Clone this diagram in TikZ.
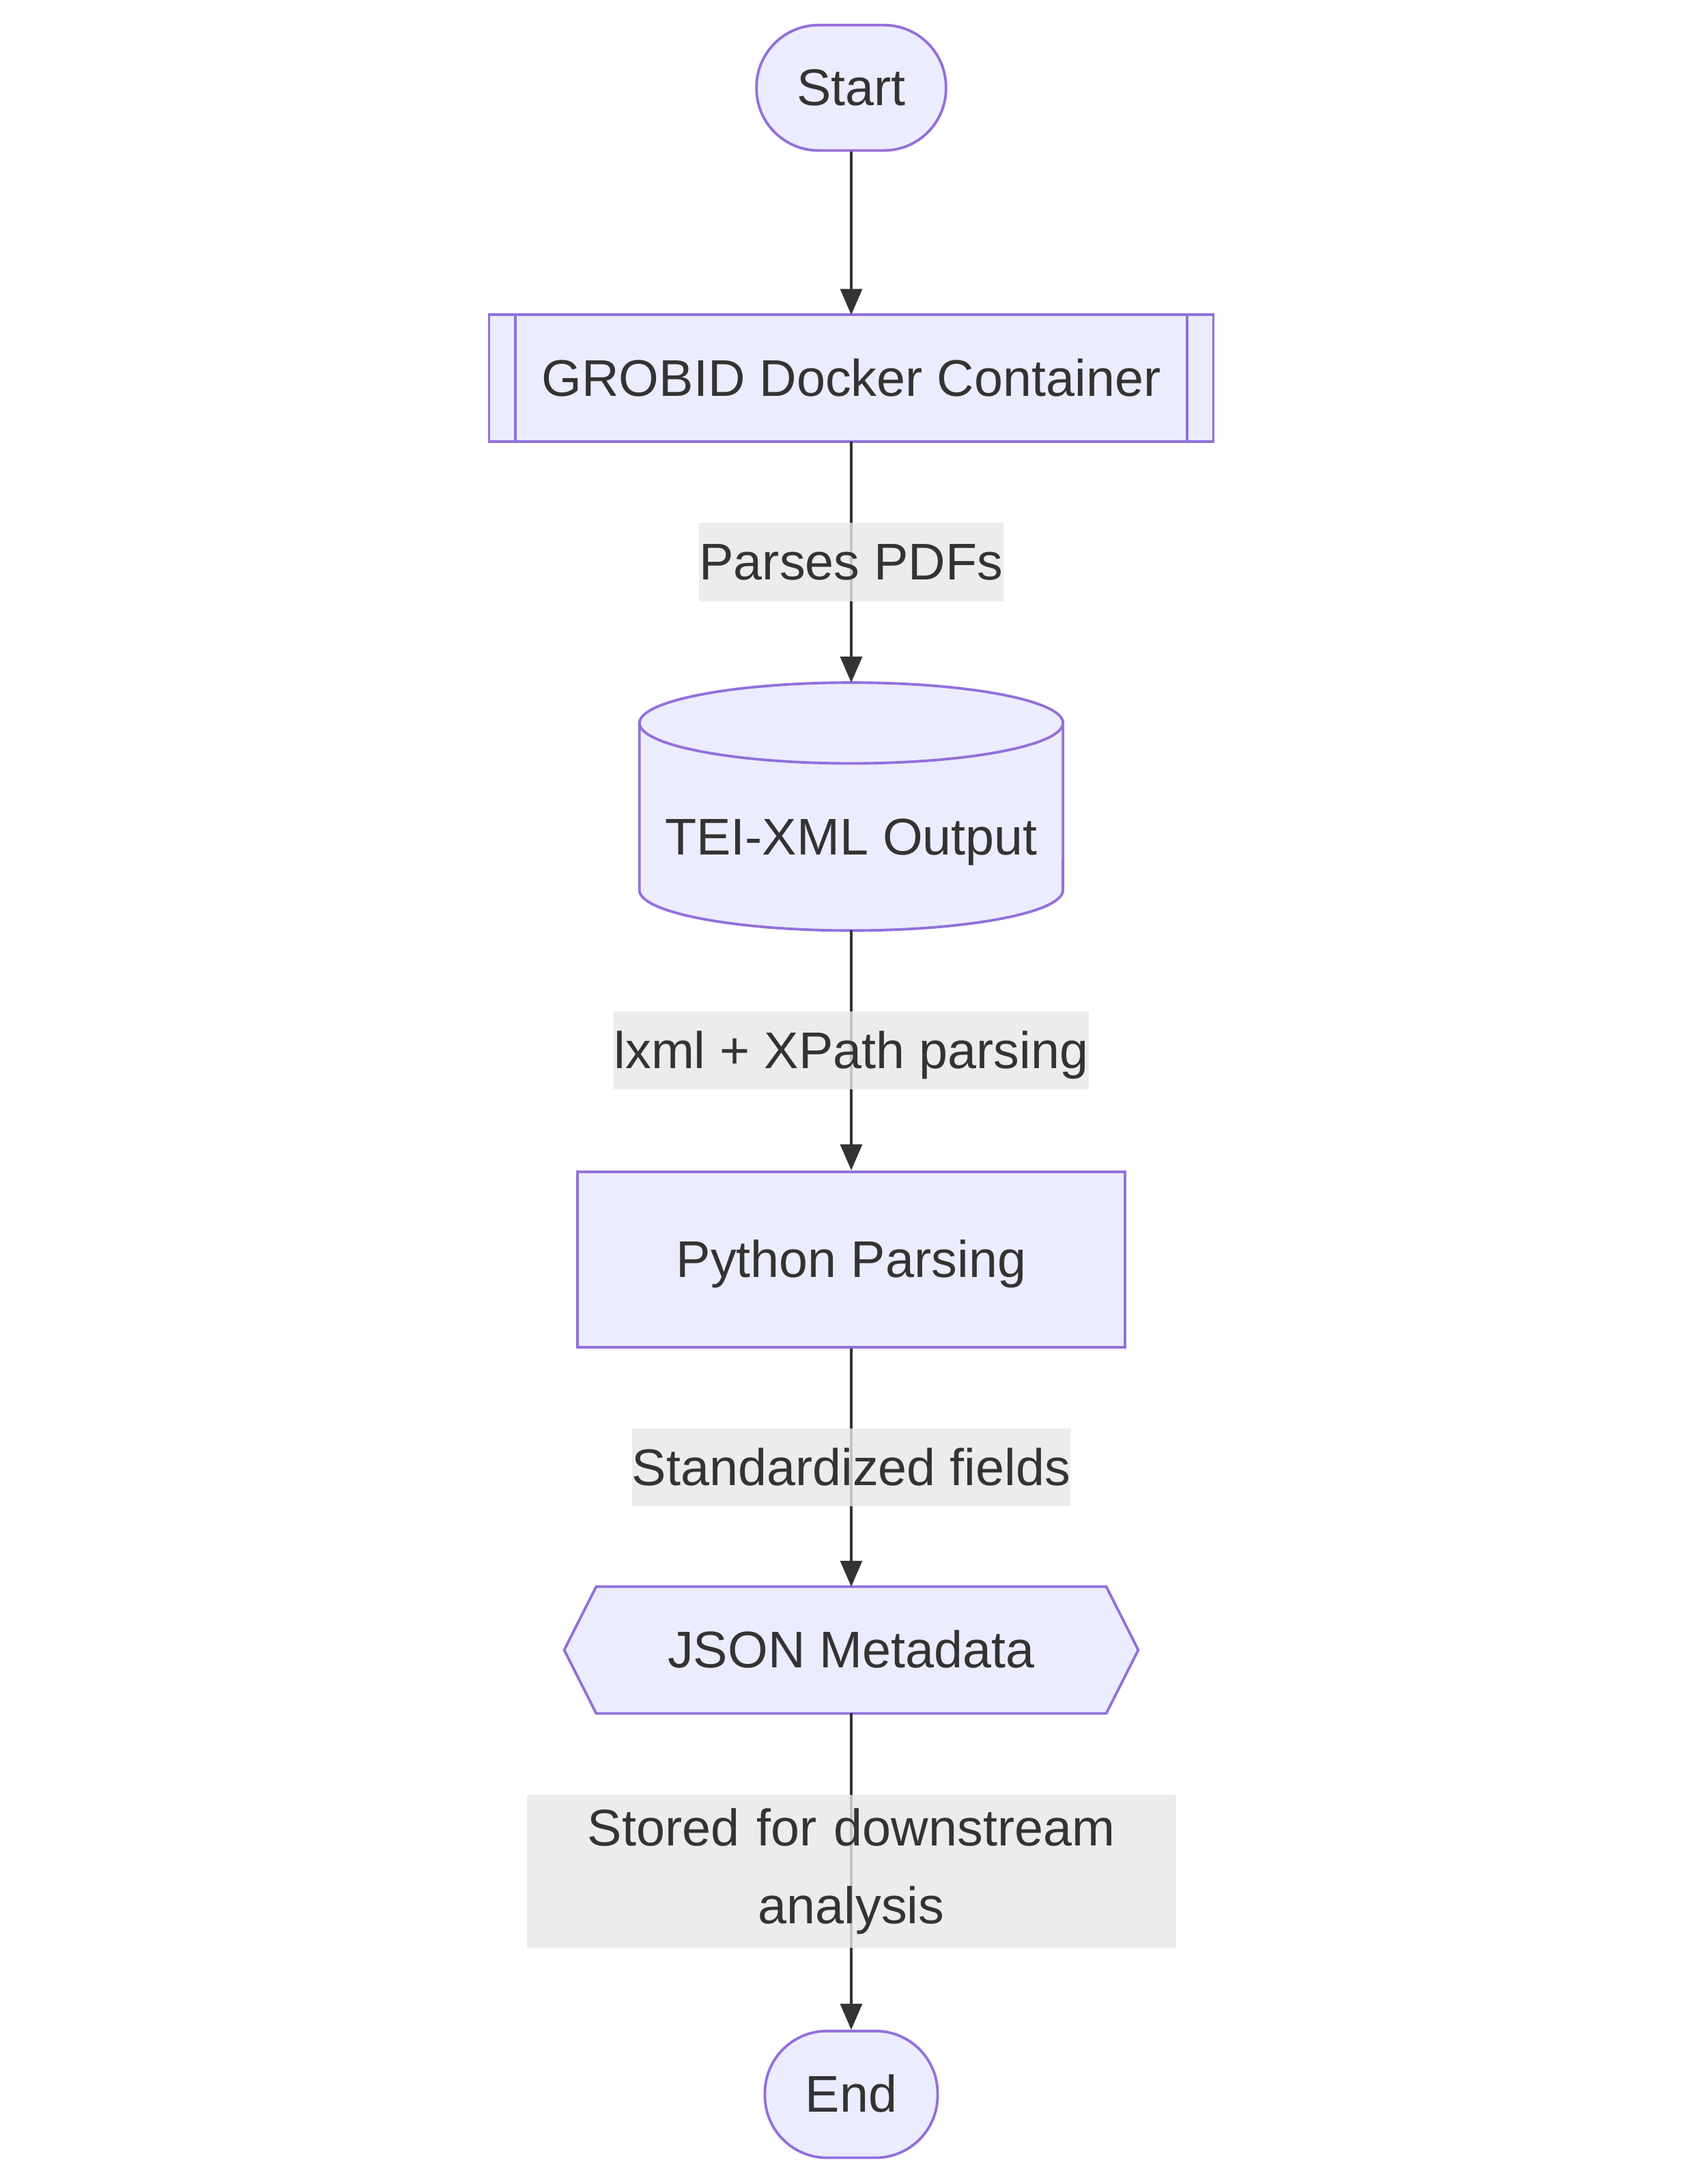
\documentclass[tikz,border=0pt]{standalone}
\usepackage{fontspec}
\setmainfont{Liberation Sans}
\usetikzlibrary{arrows.meta,backgrounds}
\definecolor{nodefill}{HTML}{ECECFF}
\definecolor{nodeline}{HTML}{9370DB}
\definecolor{inkgray}{HTML}{333333}
\definecolor{labelgray}{HTML}{E8E8E8}
\newcommand\nd{2.041mm}

\begin{document}
\begin{tikzpicture}[
			font=\fontsize{21.5}{32.4}\selectfont,
			every node/.style={text=inkgray,text height=19.46pt,text depth=4.56pt},
			term/.style={draw=nodeline,fill=nodefill,line width=1.1pt,rectangle,rounded corners=9.1mm},
			proc/.style={draw=nodeline,fill=nodefill,line width=1.1pt,rectangle,minimum width=80.2mm,minimum height=25.7mm},
			subproc/.style={draw=nodeline,fill=nodefill,line width=1.1pt,rectangle,minimum width=106.1mm,minimum height=18.57mm,outer sep=0pt},
			store/.style={draw=none,rectangle,minimum width=62.05mm,minimum height=36.33mm,inner sep=0pt,outer sep=0pt},
			hexa/.style={draw=none,rectangle,minimum width=84.1mm,minimum height=18.57mm,inner sep=0pt,outer sep=0pt},
			shapeline/.style={draw=nodeline,fill=nodefill,line width=1.1pt},
			edgelabel/.style={fill=labelgray,fill opacity=0.8,text opacity=1,inner xsep=0pt,inner ysep=0pt,minimum height=11.43mm},
			flow/.style={draw=inkgray,line width=0.9pt,-{Triangle[length=3.8mm,width=3.2mm]}}
		]
		\useasboundingbox (0,0) rectangle (248.6mm,-320mm);

		\node [term,minimum width=27.76mm,minimum height=18.37mm] (start) at (124.7mm,-12.86mm) {Start};
		\node [subproc] (grobid) at ([shift=({270:20.85*\nd})]start) {GROBID Docker Container};
		\node [store,label={[yshift=-4.49mm]center:TEI-XML Output}] (tei) at ([shift=({270:30.75*\nd})]grobid) {};
		\node [proc] (python) at ([shift=({270:32.5*\nd})]tei) {Python Parsing};
		\node [hexa] (json) at ([shift=({270:28.05*\nd})]python) {JSON Metadata};
		\node [term,minimum width=25.3mm,minimum height=18.57mm] (end) at ([shift=({270:31.9*\nd})]json) {End};

		% side bars of the subroutine box
		\draw[nodeline,line width=1.1pt] ([xshift=3.88mm]grobid.north west)--([xshift=3.88mm]grobid.south west);
		\draw[nodeline,line width=1.1pt] ([xshift=-3.88mm]grobid.north east)--([xshift=-3.88mm]grobid.south east);

		\begin{scope}[on background layer]
			\fill[white] (0,0) rectangle (248.6mm,-320mm);
			% cylinder
			\path[shapeline] ([yshift=-5.92mm]tei.north west)--([yshift=5.92mm]tei.south west)
				arc[start angle=180,end angle=360,x radius=31.02mm,y radius=5.92mm]
				--([yshift=-5.92mm]tei.north east)
				arc[start angle=0,end angle=180,x radius=31.02mm,y radius=5.92mm]--cycle;
			\draw[nodeline,line width=1.1pt] ([yshift=-5.92mm]tei.north west)
				arc[start angle=180,end angle=360,x radius=31.02mm,y radius=5.92mm];
			% hexagon
			\path[shapeline] (json.west)--([xshift=4.69mm]json.north west)--([xshift=-4.69mm]json.north east)
				--(json.east)--([xshift=-4.69mm]json.south east)--([xshift=4.69mm]json.south west)--cycle;
		\end{scope}

		\draw[flow] (start)--(grobid);
		\draw[flow] (grobid)-- node[edgelabel] {Parses PDFs} (tei);
		\draw[flow] (tei)-- node[edgelabel] {lxml + XPath parsing} (python);
		\draw[flow] (python)-- node[edgelabel] {Standardized fields} (json);
		\draw[flow] (json)-- node[edgelabel,text height={},text depth={},text width=95.1mm,align=center,minimum height=22.45mm] {Stored for downstream\\analysis} (end);
	\end{tikzpicture}
\end{document}
